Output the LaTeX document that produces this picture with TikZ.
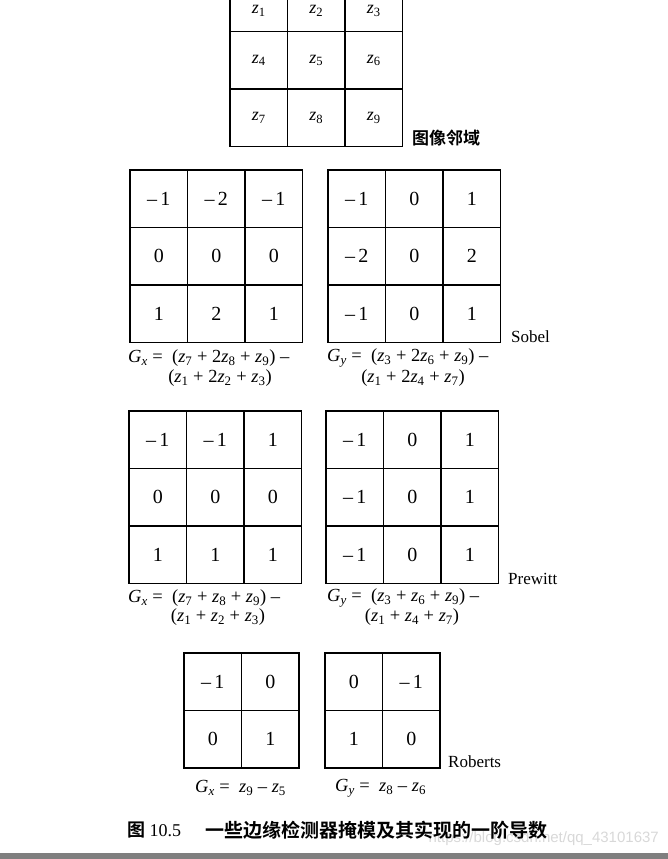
\documentclass[tikz,border=0pt]{standalone}
\usepackage{fontspec}
\setmainfont{Liberation Serif}
\newfontfamily\cjk{Noto Sans CJK SC}[BoldFont={Noto Sans CJK SC Bold}]
\newfontfamily\wmfont{Liberation Sans}
\usetikzlibrary{positioning}
\definecolor{bar}{HTML}{7F7F7F}
\definecolor{mark}{HTML}{D8D8D8}

\newcommand\zv[1]{\textit{z}\textsubscript{#1}}
\newcommand\zt[1]{\raisebox{-7pt}[\height][0pt]{\zv{#1}}}
\newcommand\Gv[1]{\textit{G}\textsubscript{\textit{#1}}}
\newcommand\mn{\textendash\,}
% one mask: style, name, left, top, columns, values row by row
\newcommand\maskgrid[6][cell]{%
  \foreach \v [count=\i from 0] in {#6} {
    \pgfmathtruncatemacro\gr{\i/#5}
    \pgfmathtruncatemacro\gc{\i-\gr*#5}
    \node[#1] (#2-\gr-\gc) at ({#3+\cs*\gc+\cs/2},{#4+\cs*\gr+\cs/2}) {\v};
  }}

\begin{document}
\begin{tikzpicture}[x=1pt, y=-1pt,
  cell/.style={draw, line width=1.8pt, minimum width=\cs pt, minimum height=\cs pt,
    inner sep=0pt, font=\fontsize{20}{20}\selectfont},
  zcell/.style={cell, font=\fontsize{18}{18}\selectfont},
  formula/.style={font=\fontsize{18.5}{18.5}\selectfont, inner sep=0pt},
  tag/.style={font=\fontsize{17}{17}\selectfont, inner sep=0pt, anchor=west}
]
\def\cs{57.5}   % cell size

\useasboundingbox (0,0) rectangle (668,859);

% --- image neighbourhood -----------------------------------------------------
\maskgrid[zcell]{nb}{230}{-26}{3}{\zt{1},\zt{2},\zt{3},\zv{4},\zv{5},\zv{6},\zv{7},\zv{8},\zv{9}}
\node[tag, font=\cjk\bfseries\fontsize{17}{17}\selectfont] (nblabel) at (412,138) {图像邻域};

% --- Sobel -------------------------------------------------------------------
\maskgrid{sx}{130}{170}{3}{\mn 1,\mn 2,\mn 1,0,0,0,1,2,1}
\maskgrid{sy}{328}{170}{3}{\mn 1,0,1,\mn 2,0,2,\mn 1,0,1}
\node[tag] (sobel) at (511,337) {Sobel};
\node[formula, anchor=west] (sxeq1) at (128,358)
  {\Gv{x} = \ (\zv{7} + 2\zv{8} + \zv{9}) \textendash};
\node[formula] (sxeq2) at (220,378) {(\zv{1} + 2\zv{2} + \zv{3})};
\node[formula, anchor=west] (syeq1) at (327,358)
  {\Gv{y} = \ (\zv{3} + 2\zv{6} + \zv{9}) \textendash};
\node[formula] (syeq2) at (413,378) {(\zv{1} + 2\zv{4} + \zv{7})};

% --- Prewitt -----------------------------------------------------------------
\maskgrid{px}{129}{411}{3}{\mn 1,\mn 1,1,0,0,0,1,1,1}
\maskgrid{py}{326}{411}{3}{\mn 1,0,1,\mn 1,0,1,\mn 1,0,1}
\node[tag] (prewitt) at (508,579) {Prewitt};
\node[formula, anchor=west] (pxeq1) at (128,598)
  {\Gv{x} = \ (\zv{7} + \zv{8} + \zv{9}) \textendash};
\node[formula] (pxeq2) at (218,617) {(\zv{1} + \zv{2} + \zv{3})};
\node[formula, anchor=west] (pyeq1) at (327,598)
  {\Gv{y} = \ (\zv{3} + \zv{6} + \zv{9}) \textendash};
\node[formula] (pyeq2) at (412,617) {(\zv{1} + \zv{4} + \zv{7})};

% --- Roberts -----------------------------------------------------------------
\maskgrid{rx}{184}{653}{2}{\mn 1,0,0,1}
\maskgrid{ry}{325}{653}{2}{0,\mn 1,1,0}
\node[tag] (roberts) at (448,762) {Roberts};
\node[formula, anchor=west] (rxeq) at (195,788) {\Gv{x} = \ \zv{9} \textendash\ \zv{5}};
\node[formula, anchor=west] (ryeq) at (335,788) {\Gv{y} = \ \zv{8} \textendash\ \zv{6}};

% --- caption and page edge ---------------------------------------------------
\node[anchor=east, inner sep=0pt, text=mark, font=\wmfont\fontsize{15}{15}\selectfont]
  (watermark) at (659,839) {https://blog.csdn.net/qq\_43101637};
\node[anchor=west, inner sep=0pt, font=\fontsize{18}{18}\selectfont] (fignum) at (127,830)
  {{\cjk\bfseries 图} 10.5};
\node[anchor=west, inner sep=0pt, font=\cjk\bfseries\fontsize{19}{19}\selectfont] (caption)
  at (205,830) {一些边缘检测器掩模及其实现的一阶导数};
\fill[bar] (0,853) rectangle (668,859);

\end{tikzpicture}
\end{document}
